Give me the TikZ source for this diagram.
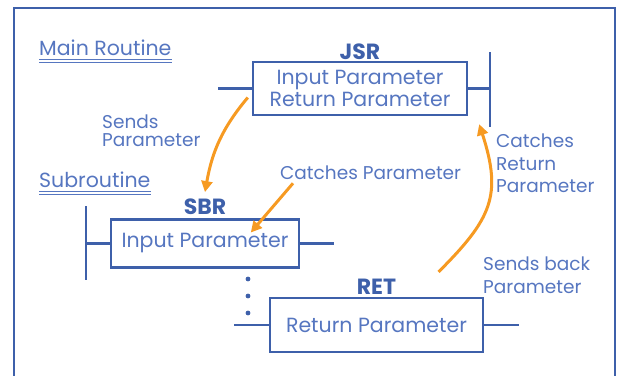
\documentclass[tikz,border=0pt]{standalone}
\usepackage{fontspec}
\setmainfont{Poppins}
\usetikzlibrary{positioning,arrows.meta}
\definecolor{rulerblue}{RGB}{62,96,170}
\definecolor{inkblue}{RGB}{86,118,192}
\definecolor{callorange}{RGB}{246,154,34}

\begin{document}
\begin{tikzpicture}[x=1pt,y=1pt,
	parbox/.style={draw=rulerblue, line width=2.4pt, inner sep=0pt, align=center, text=inkblue, font=\fontsize{20.5}{22}\selectfont},
	tag/.style={text=rulerblue, inner sep=1pt, font=\fontsize{22}{24}\selectfont\bfseries},
	note/.style={text=inkblue, align=left, inner sep=0pt, anchor=north west},
	heading/.style={text=inkblue, inner sep=0pt, anchor=west, font=\fontsize{20.5}{22}\selectfont},
	underl/.style={inkblue, line width=0.8pt},
	rail/.style={rulerblue, line width=2.4pt},
	pass/.style={callorange, line width=3pt, -{Triangle[length=11pt,width=11pt]}}]
	\useasboundingbox (0,0) rectangle (617,-375);
	%Rahmen
	\draw[rail, line width=2.6pt] (14,-376) -- (14,-8) -- (615,-8) -- (615,-376);

	%Ueberschriften
	\node[heading] (mainhead) at (39,-48) {Main Routine};
	\draw[underl] ([yshift=-4pt]mainhead.base west) -- ([yshift=-4pt]mainhead.base east);
	\draw[underl] ([yshift=-7pt]mainhead.base west) -- ([yshift=-7pt]mainhead.base east);
	\node[heading] (subhead) at (39,-180) {Subroutine};
	\draw[underl] ([yshift=-4pt]subhead.base west) -- ([yshift=-4pt]subhead.base east);
	\draw[underl] ([yshift=-7pt]subhead.base west) -- ([yshift=-7pt]subhead.base east);

	%JSR
	\node[parbox, minimum width=214pt, minimum height=53pt] (jsr) at (360,-88.5) {Input Parameter\\Return Parameter};
	\node[tag, above=0pt of jsr] (jsrtag) {JSR};
	\coordinate (jsrin) at (218,-88.5);
	\coordinate (jsrout) at (490,-88.5);
	\draw[rail] (jsrin) -- (jsr.west);
	\draw[rail] (jsr.east) -- (jsrout);
	\draw[rail] (490,-52) -- (490,-127);

	%SBR
	\node[parbox, minimum width=188pt, minimum height=48pt] (sbr) at (205,-243.5) {Input Parameter};
	\node[tag, above=2pt of sbr] (sbrtag) {SBR};
	\coordinate (sbrin) at (86,-243.5);
	\coordinate (sbrout) at (334,-243.5);
	\draw[rail] (86,-206) -- (86,-280);
	\draw[rail] (sbrin) -- (sbr.west);
	\draw[rail] (sbr.east) -- (sbrout);
	\foreach \y in {279,296,313}
		\fill[rulerblue] (248,-\y) circle (2.4pt);

	%RET
	\node[parbox, minimum width=213pt, minimum height=54pt] (ret) at (376.5,-325) {Return Parameter};
	\node[tag, above=1pt of ret] (rettag) {RET};
	\coordinate (retin) at (234,-325);
	\coordinate (retout) at (519,-325);
	\draw[rail] (retin) -- (ret.west);
	\draw[rail] (ret.east) -- (retout);

	%Beschriftung
	\node[note, font=\fontsize{18.5}{18}\selectfont] (sends) at (102,-115) {Sends\\Parameter};
	\node[note, font=\fontsize{18.5}{18}\selectfont] (catchin) at (280,-166) {Catches Parameter};
	\node[note, font=\fontsize{18.5}{22.5}\selectfont] (catchret) at (496,-134) {Catches\\Return\\Parameter};
	\node[note, font=\fontsize{18.5}{23}\selectfont] (sendback) at (483,-257) {Sends back\\Parameter};

	%Pfeile
	\draw[pass] ([shift={(-4,-9)}]jsr.west) to[out=230, in=80] ([yshift=6pt]sbrtag.north);
	\draw[pass] ([shift={(13,-3)}]catchin.south west) -- ([shift={(141,11)}]sbr.west);
	\draw[pass] ([shift={(62,6)}]rettag.north) to[out=45, in=-72, looseness=1.25] ([shift={(11,-8)}]jsr.south east);
\end{tikzpicture}
\end{document}
